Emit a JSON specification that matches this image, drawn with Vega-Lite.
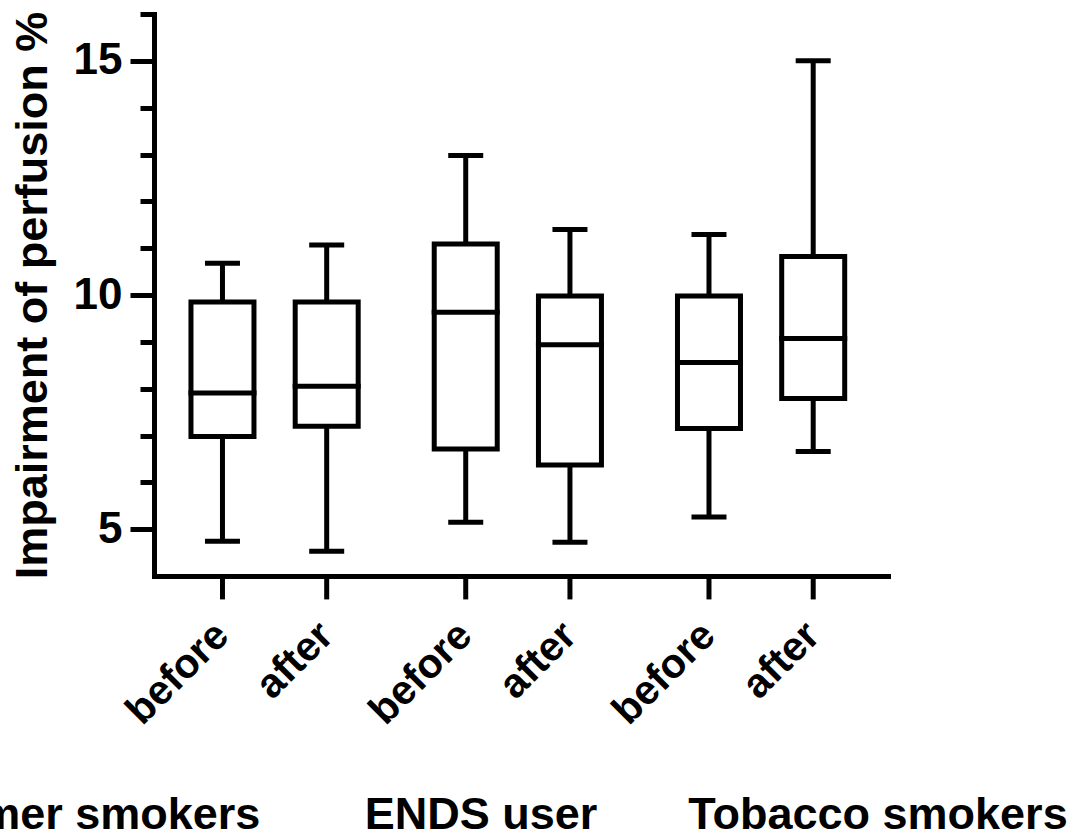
{
  "$schema": "https://vega.github.io/schema/vega-lite/v6.json",
  "width": 734,
  "height": 562,
  "autosize": "none",
  "padding": {"left": 154, "top": 14, "right": 191, "bottom": 260},
  "background": "white",
  "config": {"view": {"stroke": null}, "font": "Liberation Sans"},
  "datasets": {
    "boxes": [
      {"group": "Former smokers", "cond": "before", "min": 4.74, "q1": 6.98, "median": 7.91, "q3": 9.85, "max": 10.68},
      {"group": "Former smokers", "cond": "after", "min": 4.53, "q1": 7.20, "median": 8.05, "q3": 9.85, "max": 11.07},
      {"group": "ENDS user", "cond": "before", "min": 5.15, "q1": 6.71, "median": 9.63, "q3": 11.09, "max": 12.98},
      {"group": "ENDS user", "cond": "after", "min": 4.72, "q1": 6.37, "median": 8.94, "q3": 9.98, "max": 11.40},
      {"group": "Tobacco smokers", "cond": "before", "min": 5.26, "q1": 7.15, "median": 8.56, "q3": 9.98, "max": 11.29},
      {"group": "Tobacco smokers", "cond": "after", "min": 6.66, "q1": 7.79, "median": 9.07, "q3": 10.82, "max": 15.0}
    ],
    "groups": [
      {"group": "Former smokers"},
      {"group": "ENDS user"},
      {"group": "Tobacco smokers"}
    ]
  },
  "layer": [
    {
      "data": {"name": "boxes"},
      "encoding": {
        "x": {
          "field": "group", "type": "nominal",
          "sort": ["Former smokers", "ENDS user", "Tobacco smokers"],
          "scale": {"paddingInner": 0, "paddingOuter": 0.0087, "align": 0},
          "axis": {"title": null, "labels": false, "ticks": false, "domain": true, "domainWidth": 5, "domainColor": "black", "domainCap": "square", "grid": false}
        },
        "xOffset": {
          "field": "cond", "type": "nominal",
          "sort": ["before", "after"],
          "scale": {"paddingInner": 0, "paddingOuter": 0.167, "align": 0.47}
        }
      },
      "layer": [
        {
          "mark": {"type": "rule", "color": "black", "strokeWidth": 5},
          "encoding": {
            "y": {
              "field": "min", "type": "quantitative",
              "scale": {"domain": [4, 16], "nice": false, "zero": false},
              "axis": {
                "values": [5, 6, 7, 8, 9, 10, 11, 12, 13, 14, 15, 16],
                "labelExpr": "datum.value % 5 === 0 ? datum.label : ''",
                "tickSize": {"condition": {"test": "datum.value % 5 === 0", "value": 24}, "value": 14},
                "tickWidth": 5, "tickColor": "black",
                "domainWidth": 5, "domainColor": "black", "domainCap": "square",
                "labelFont": "Liberation Sans", "labelFontWeight": "bold", "labelFontSize": 44, "labelColor": "black",
                "labelPadding": 8, "labelOverlap": false,
                "grid": false,
                "title": "Impairment of perfusion %",
                "titleFont": "Liberation Sans", "titleFontWeight": "bold", "titleFontSize": 45, "titleColor": "black",
                "titlePadding": 18
              }
            },
            "y2": {"field": "max"}
          }
        },
        {
          "mark": {"type": "bar", "fill": "white", "stroke": "black", "strokeWidth": 5, "width": 63},
          "encoding": {
            "y": {"field": "q1", "type": "quantitative"},
            "y2": {"field": "q3"}
          }
        },
        {
          "mark": {"type": "tick", "color": "black", "thickness": 5, "size": 68, "opacity": 1},
          "encoding": {"y": {"field": "median", "type": "quantitative"}}
        },
        {
          "mark": {"type": "tick", "color": "black", "thickness": 5, "size": 35, "opacity": 1},
          "encoding": {"y": {"field": "min", "type": "quantitative"}}
        },
        {
          "mark": {"type": "tick", "color": "black", "thickness": 5, "size": 35, "opacity": 1},
          "encoding": {"y": {"field": "max", "type": "quantitative"}}
        },
        {
          "mark": {"type": "rule", "color": "black", "strokeWidth": 5},
          "encoding": {"y": {"datum": 4}, "y2": {"datum": 3.5}}
        },
        {
          "mark": {"type": "text", "angle": 315, "align": "right", "baseline": "middle", "font": "Liberation Sans", "fontWeight": "bold", "fontSize": 41, "color": "black"},
          "encoding": {"y": {"datum": 2.86}, "text": {"field": "cond"}}
        }
      ]
    },
    {
      "data": {"name": "groups"},
      "mark": {"type": "text", "font": "Liberation Sans", "fontSize": 45, "fontWeight": "bold", "baseline": "alphabetic", "align": "center", "color": "black"},
      "encoding": {
        "x": {
          "field": "group", "type": "nominal",
          "sort": ["Former smokers", "ENDS user", "Tobacco smokers"],
          "scale": {"type": "point", "padding": 0, "range": [-70, 724]},
          "axis": null
        },
        "y": {"datum": -1.4},
        "text": {"field": "group"}
      }
    }
  ],
  "resolve": {"scale": {"x": "independent"}}
}
